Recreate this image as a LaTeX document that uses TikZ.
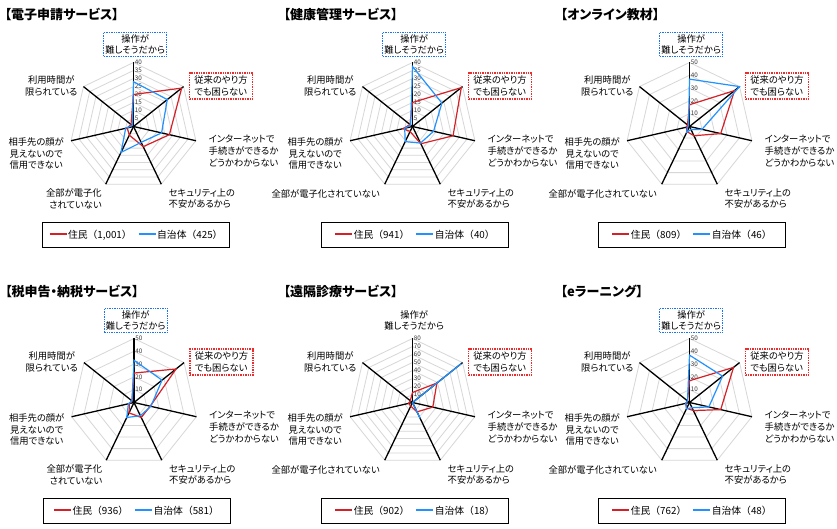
\documentclass[tikz,border=0pt]{standalone}
\usepackage{fontspec}
\newfontfamily\jp[RawFeature=+palt]{Noto Sans CJK JP}
\newfontfamily\jpw{Noto Sans CJK JP}
\definecolor{cRed}{RGB}{212,32,38}
\definecolor{cBlue}{RGB}{35,146,255}
\definecolor{boxBlue}{RGB}{30,115,240}
\definecolor{boxRed}{RGB}{235,45,45}
\definecolor{gridgray}{RGB}{215,215,215}
\definecolor{tickgray}{RGB}{55,55,55}
\tikzset{
  gridline/.style={draw=gridgray, line width=0.8pt},
  spoke/.style={draw=black, line width=1.3pt},
  redline/.style={draw=cRed, line width=1.2pt, line join=miter},
  blueline/.style={draw=cBlue, line width=1.2pt, line join=miter},
  lab/.style={font=\jp\fontsize{9.3}{11.7}\selectfont, inner sep=0pt},
  ticklab/.style={font=\jp\fontsize{6.3}{6.5}\selectfont, text=tickgray, inner sep=0.3pt},
  charttitle/.style={font=\jp\bfseries\fontsize{13}{14}\selectfont, inner sep=0pt, anchor=west},
  bluebox/.style={draw=boxBlue, dash pattern=on 1.4pt off 1pt, line width=1.2pt, minimum width=63pt, minimum height=24.5pt},
  redbox/.style={draw=boxRed, dash pattern=on 1.4pt off 1pt, line width=1.2pt, minimum width=63pt, minimum height=26pt},
  nobox/.style={minimum width=63pt, minimum height=24.5pt},
  legendbox/.style={draw=black, line width=0.8pt, minimum width=187pt, minimum height=25pt, font=\jpw\fontsize{9.8}{12}\selectfont, inner sep=0pt}
}
\newcommand\legline[1]{\textcolor{#1}{\rule[3.3pt]{17pt}{1.8pt}}}
% #1 cx, #2 cy, #3 max, #4 levels, #5 title, #6 red values, #7 blue values, #8 red legend, #9 blue legend
\newcommand\radarchart[9]{%
\begin{scope}[shift={(#1,#2)}]
  \pgfmathsetmacro\sc{64/#3}
  \foreach \i in {1,...,#4}{%
    \pgfmathsetmacro\rr{64*\i/#4}
    \draw[gridline] (90:\rr pt) \foreach \k in {1,...,6}{ -- ({90-\k*360/7}:\rr pt)} -- cycle;
  }
  \coordinate (O) at (0,0);
  \foreach \k in {0,...,6}{%
    \coordinate (V\k) at ({90-\k*360/7}:64pt);
    \draw[spoke] (O) -- (V\k);
  }
  \foreach \i in {1,...,#4}{%
    \pgfmathsetmacro\rr{64*\i/#4}
    \pgfmathtruncatemacro\tv{round(\i*#3/#4)}
    \node[ticklab, anchor=west] (tick\i) at (0.8,\rr) {\tv};
  }
  \foreach \v [count=\k from 0] in {#6}{%
    \pgfmathsetmacro\rr{\v*\sc}
    \coordinate (R\k) at ({90-\k*360/7}:\rr pt);
  }
  \foreach \v [count=\k from 0] in {#7}{%
    \pgfmathsetmacro\rr{\v*\sc}
    \coordinate (B\k) at ({90-\k*360/7}:\rr pt);
  }
  \draw[redline] (R0)--(R1)--(R2)--(R3)--(R4)--(R5)--(R6)--cycle;
  \draw[blueline] (B0)--(B1)--(B2)--(B3)--(B4)--(B5)--(B6)--cycle;
  \node[charttitle] (T) at (-129,\titley) {#5};
  \node[lab, \topbox, align=center] (L0) at (1.7,82) {操作が\\難しそうだから};
  \node[lab, redbox, align=left] (L1) at (87.5,40.5) {従来のやり方\\でも困らない};
  \node[lab, anchor=west, align=left] (L2) at (75,-24.5) {インターネットで\\手続きができるか\\どうかわからない};
  \node[lab, anchor=west, align=left] (L3) at (35,-72) {セキュリティ上の\\不安があるから};
  \zenbu
  \node[lab, anchor=east, align=center] (L5) at (-69.5,-27) {相手先の顔が\\見えないので\\信用できない};
  \node[lab, anchor=east, align=center] (L6) at (-56,40.5) {利用時間が\\限られている};
  \node[legendbox] (LG) at (2.5,-108.3) {\legline{cRed}\hspace{1.5pt}#8\hspace{7pt}\legline{cBlue}\hspace{1.5pt}#9};
\end{scope}}
\newcommand\zenbutwo{\node[lab, anchor=east, align=right] (L4) at (-31.6,-72) {全部が電子化\\されていない};}
\newcommand\zenbuone{\node[lab, anchor=east] (L4) at (-32.5,-67.6) {全部が電子化されていない};}
\begin{document}
\begin{tikzpicture}[x=1pt,y=1pt]
\useasboundingbox (0,0) rectangle (837,529);
\fill[white] (0,0) rectangle (837,529);
\def\titley{112}
\def\topbox{bluebox}
\let\zenbu\zenbutwo
\radarchart{133.5}{402.5}{40}{8}{【電子申請サービス】}{20,38.5,23,14,6,4,2}{28,27,18,11,18,5,1}{住民（1,001）}{自治体（425）}
\let\zenbu\zenbuone
\radarchart{412.5}{402.5}{40}{8}{【健康管理サービス】}{15,39,26,12,3.5,6,2}{37.5,23.5,13.5,11.5,10.5,5,1.5}{住民（941）}{自治体（40）}
\radarchart{689.5}{402.5}{50}{5}{【オンライン教材】}{17,45,25,8,4.5,2.5,2}{37,50,10,2.7,5,1.5,1}{住民（809）}{自治体（46）}
\def\titley{111.5}
\let\zenbu\zenbutwo
\radarchart{134}{126.5}{50}{5}{【税申告・納税サービス】}{23,42,13,13,9,3.7,2}{33,28,13.5,11.5,13,4.5,2}{住民（936）}{自治体（581）}
\def\topbox{nobox}
\let\zenbu\zenbuone
\radarchart{412.5}{126.5}{80}{8}{【遠隔診療サービス】}{12.5,39,26,13,5,5,3.5}{0,78,0,22.2,0,0,0}{住民（902）}{自治体（18）}
\def\topbox{bluebox}
\radarchart{689.5}{126.5}{50}{5}{【eラーニング】}{17,44,25,7,5,3,2}{37,33,15.5,4.5,5.5,3,2}{住民（762）}{自治体（48）}
\end{tikzpicture}
\end{document}
